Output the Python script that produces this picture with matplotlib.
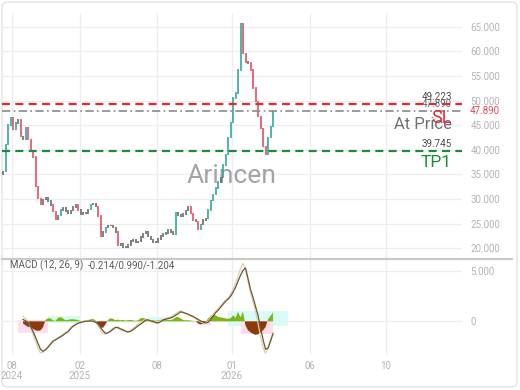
import numpy as np
import matplotlib
matplotlib.use("Agg")
import matplotlib.pyplot as plt
from matplotlib.patches import FancyBboxPatch, Rectangle
from matplotlib.lines import Line2D

plt.rcParams['font.family'] = ['Roboto', 'DejaVu Sans']

# ---- price closes, one per bar ----
closes = [35.5, 41.0, 45.0, 46.5, 44.2, 45.4, 46.0, 42.6, 42.0, 44.4,
          42.0, 39.6, 38.5, 32.5, 30.0, 28.9, 29.8, 30.2, 29.5, 28.7,
          27.4, 25.8, 26.6, 27.7, 28.1, 27.5, 27.1, 27.6, 28.3, 28.7,
          27.7, 26.8, 27.1, 27.0, 27.8, 28.8, 29.0, 28.4, 26.5, 22.3,
          23.2, 24.2, 24.6, 24.6, 24.1, 23.2, 20.6, 20.8, 20.2, 20.1,
          20.6, 21.4, 21.6, 21.1, 21.3, 22.2, 22.9, 23.2, 22.3, 21.7,
          21.1, 21.2, 21.8, 22.4, 22.8, 23.0, 23.7, 23.2, 22.8, 27.2,
          26.7, 26.4, 26.9, 27.6, 28.3, 27.0, 25.7, 25.4, 23.7, 24.8,
          25.7, 26.0, 27.7, 29.6, 30.9, 32.2, 33.4, 34.3, 36.9, 39.0,
          42.4, 45.5, 50.5, 51.5, 56.2, 65.5, 59.5, 57.8, 57.6, 56.2,
          52.5, 49.8, 46.7, 44.3, 40.6, 39.0, 42.4, 44.7, 47.89]

# ---- MACD (12, 26, 9), starting at bar 8 ----
macd_start = 8
macd_line = [0.5, 0.3, 0.0, -0.6, -1.3, -2.0, -2.7, -3.15, -3.1, -2.8,
             -2.5, -2.2, -1.95, -1.8, -1.65, -1.5, -1.3, -1.1, -0.9, -0.65,
             -0.42, -0.28, -0.15, -0.08, 0.0, 0.05, 0.1, 0.12, 0.05, -0.1,
             -0.4, -0.85, -1.2, -1.3, -1.1, -0.9, -0.7, -0.55, -0.7, -0.85,
             -0.95, -1.05, -1.05, -0.9, -0.7, -0.5, -0.3, -0.15, 0.05, 0.2,
             0.15, 0.0, -0.1, -0.2, -0.1, 0.1, 0.2, 0.28, 0.35, 0.42,
             0.55, 0.75, 0.95, 1.05, 0.9, 0.8, 0.7, 0.55, 0.4, 0.25,
             0.1, -0.05, -0.15, -0.2, 0.0, 0.4, 0.7, 1.0, 1.25, 1.55,
             1.85, 2.1, 2.35, 2.7, 3.2, 3.8, 4.5, 5.3, 5.8, 5.2,
             4.0, 2.9, 2.0, 1.0, -0.2, -1.5, -2.6, -3.2, -2.6, -1.8,
             -1.1]
signal_line = [0.2, 0.05, -0.1, -0.5, -1.0, -1.6, -2.2, -2.8, -3.0, -2.85,
               -2.6, -2.3, -2.0, -1.85, -1.7, -1.55, -1.4, -1.2, -1.05, -0.75,
               -0.5, -0.35, -0.2, -0.12, -0.05, 0.0, 0.02, 0.05, 0.0, -0.08,
               -0.25, -0.6, -0.95, -1.2, -1.15, -1.0, -0.8, -0.62, -0.62, -0.75,
               -0.85, -0.98, -1.07, -1.0, -0.85, -0.65, -0.45, -0.3, -0.1, 0.12,
               0.15, 0.05, 0.0, -0.1, -0.17, -0.05, 0.14, 0.2, 0.28, 0.34,
               0.45, 0.6, 0.75, 0.95, 0.9, 0.8, 0.72, 0.6, 0.5, 0.35,
               0.2, 0.05, -0.05, -0.15, -0.1, 0.2, 0.5, 0.85, 1.1, 1.4,
               1.7, 2.0, 2.2, 2.5, 2.9, 3.4, 4.0, 4.6, 5.1, 5.35,
               4.3, 3.2, 2.4, 1.5, 0.6, -0.6, -1.8, -2.8, -2.7, -2.0,
               -1.25]
histogram = [-0.2, -0.4, -0.55, -0.6, -0.75, -0.9, -0.95, -0.9, -0.6, 0.15,
             0.3, 0.3, 0.1, 0.05, 0.35, 0.42, 0.3, 0.1, 0.15, 0.2,
             0.22, 0.18, 0.12, 0.05, 0.03, 0.05, 0.08, 0.22, 0.25, 0.1,
             -0.3, -0.6, -0.65, -0.3, 0.15, 0.3, 0.25, 0.12, 0.18, 0.1,
             0.15, 0.08, 0.12, 0.15, 0.1, 0.05, 0.1, 0.3, 0.35, 0.25,
             0.1, 0.05, 0.1, 0.05, 0.1, 0.15, 0.12, 0.1, 0.15, 0.12,
             0.2, 0.4, 0.45, 0.3, 0.15, 0.1, 0.12, 0.08, 0.05, 0.02,
             -0.2, -0.3, -0.25, -0.1, 0.3, 0.55, 0.68, 0.6, 0.45, 0.4,
             0.35, 0.3, 0.25, 0.3, 0.6, 0.35, 0.95, 0.4, 0.97, -0.4,
             -0.9, -1.1, -1.25, -1.35, -1.3, -1.15, -0.9, -0.6, 0.2, 0.55,
             0.85]
macd_header = "MACD (12, 26, 9)"
macd_values = "-0.214/0.990/-1.204"

# shaded zones behind the histogram
zone_start = [6, 18, 58, 78, 90, 95]
zone_end = [18, 31, 68, 83, 114, 108]
zone_low = [-1.15, -0.13, 0.0, -0.4, -0.5, -1.3]
zone_high = [0.17, 0.5, 0.4, 0.0, 1.0, 0.0]
zone_kind = ['neg', 'pos', 'pos', 'neg', 'pos', 'neg']

# ---- levels ----
sl_level = 49.223
at_price = 47.890
tp1_level = 39.745

# ---- axes ticks ----
price_ticks = [20, 25, 30, 35, 40, 45, 50, 55, 60, 65]
macd_ticks = [0, 5]
time_ticks = [3.5, 30.8, 61.5, 91.6, 122.8, 153.2]
time_labels = ["08\n2024", "02\n2025", "08", "01\n2026", "06", "10"]

UP = "#2aa596"
DOWN = "#e0485a"
GRID = "#eeeeee"
TICKC = "#b3b3b3"

W, H = 520, 390
fig = plt.figure(figsize=(W / 100, H / 100), dpi=100)
fig.patch.set_facecolor("white")


def fx(px):
    return px / W


def fy(py):
    return 1 - py / H


# card frame
fig.patches.append(FancyBboxPatch((fx(2), fy(387)), fx(515), 385 / H,
                                  boxstyle="round,pad=0,rounding_size=0.012",
                                  transform=fig.transFigure, fc="none",
                                  ec="#e3e3e3", lw=1.0, zorder=-5))

ax = fig.add_axes([fx(2), fy(258), fx(460), 245 / H])
axm = fig.add_axes([fx(2), fy(355), fx(460), 96 / H], sharex=ax)

n = len(closes)
x = np.arange(n)
xlim = (-0.4, 183.6)

for a in (ax, axm):
    a.set_facecolor("none")
    for s in a.spines.values():
        s.set_visible(False)
    a.yaxis.tick_right()
    a.tick_params(axis='y', length=0, pad=6, labelsize=7, labelcolor=TICKC)
    a.tick_params(axis='x', length=0)
    a.set_xticks(time_ticks)
    a.grid(True, color=GRID, lw=0.9)
    a.set_axisbelow(True)

ax.set_xlim(*xlim)
ax.set_ylim(18.0, 67.8)
ax.set_yticks(price_ticks)
ax.set_yticklabels([f"{v:.3f}" for v in price_ticks])
ax.tick_params(axis='x', labelbottom=False)

# candles: body from previous close to close; quiet bars drawn in grey
opens = [closes[0] - 0.6] + closes[:-1]
for xi, o, c in zip(x, opens, closes):
    col = UP if c >= o else DOWN
    if abs(c - o) < 1.0:
        col = "#6a6262" if c < o else "#5e6866"
    ax.vlines(xi, min(o, c) - 0.1, max(o, c) + 0.2, colors=col, lw=1.15, zorder=3)

# level lines
ax.axhline(sl_level, color="#e8262f", lw=1.6, dashes=(3.6, 2.4), zorder=4)
ax.axhline(at_price, color="#8a8a8a", lw=1.2, dashes=(5, 2, 1, 2), zorder=4)
ax.axhline(tp1_level, color="#1f8a36", lw=1.6, dashes=(3.6, 2.4), zorder=4)

tr = ax.get_yaxis_transform()
lab_x = (452 - 2) / 460
ax.text(lab_x, sl_level + 0.5, f"{sl_level:.3f}", transform=tr, ha='right', va='bottom',
        fontsize=7, color="#4a4a4a", zorder=5)
ax.text(lab_x, at_price + 0.3, f"{at_price:.3f}", transform=tr, ha='right', va='bottom',
        fontsize=7, color="#6a6a6a", zorder=5)
ax.text(lab_x, 45.2, "At Price", transform=tr, ha='right', va='center',
        fontsize=12, color="#707070", zorder=5)
ax.text(lab_x, 46.4, "SL", transform=tr, ha='right', va='center',
        fontsize=13, color="#e8262f", zorder=6)
ax.text(lab_x, tp1_level + 0.5, f"{tp1_level:.3f}", transform=tr, ha='right', va='bottom',
        fontsize=7, color="#4a4a4a", zorder=5)
ax.text(lab_x, 37.4, "TP1", transform=tr, ha='right', va='center',
        fontsize=12.5, color="#1f8a36", zorder=5)
ax.text(1 + 8 / 460, at_price, f"{at_price:.3f}", transform=tr, ha='left', va='center',
        fontsize=7, color="#e0485a", zorder=5)

# watermark
ax.text((232 - 2) / 460, 34.7, "Arincen", transform=tr, ha='center', va='center',
        fontsize=19, color="#a3a3a3", zorder=2)

# ---- MACD panel ----
axm.set_ylim(-3.37, 6.24)
axm.set_yticks(macd_ticks)
axm.set_yticklabels(["0", "5.000"])
axm.tick_params(axis='x', labelsize=7, labelcolor=TICKC, pad=4)
axm.set_xticklabels(time_labels, linespacing=1.0)

for s0, s1, lo, hi, k in zip(zone_start, zone_end, zone_low, zone_high, zone_kind):
    axm.add_patch(Rectangle((s0, lo), s1 - s0, hi - lo,
                            fc="#ffdcee" if k == 'neg' else "#d9fbf5",
                            ec="none", zorder=1))

xm = np.arange(macd_start, macd_start + len(histogram))
h = np.array(histogram)
axm.fill_between(xm, 0, h, where=h >= 0, interpolate=True, color="#7cb518", lw=0, zorder=2)
axm.fill_between(xm, 0, h, where=h < 0, interpolate=True, color="#8b3a0c", lw=0, zorder=2)
axm.plot(xm, macd_line, color="#e0cfae", lw=0.9, zorder=3)
axm.plot(xm, signal_line, color="#6b5632", lw=0.9, zorder=4)

axm.text(8 / 460, 0.93, macd_header, transform=axm.transAxes,
         ha='left', va='center', fontsize=7, color="#5a5a5a")
axm.text(86 / 460, 0.93, macd_values, transform=axm.transAxes,
         ha='left', va='center', fontsize=7, color="#5a5a5a")

# panel separator
fig.add_artist(Line2D([fx(2), fx(512)], [fy(258.5), fy(258.5)], transform=fig.transFigure,
                      color="#c9c9c9", lw=1.6))

fig.savefig("out.png", dpi=100, facecolor="white")
